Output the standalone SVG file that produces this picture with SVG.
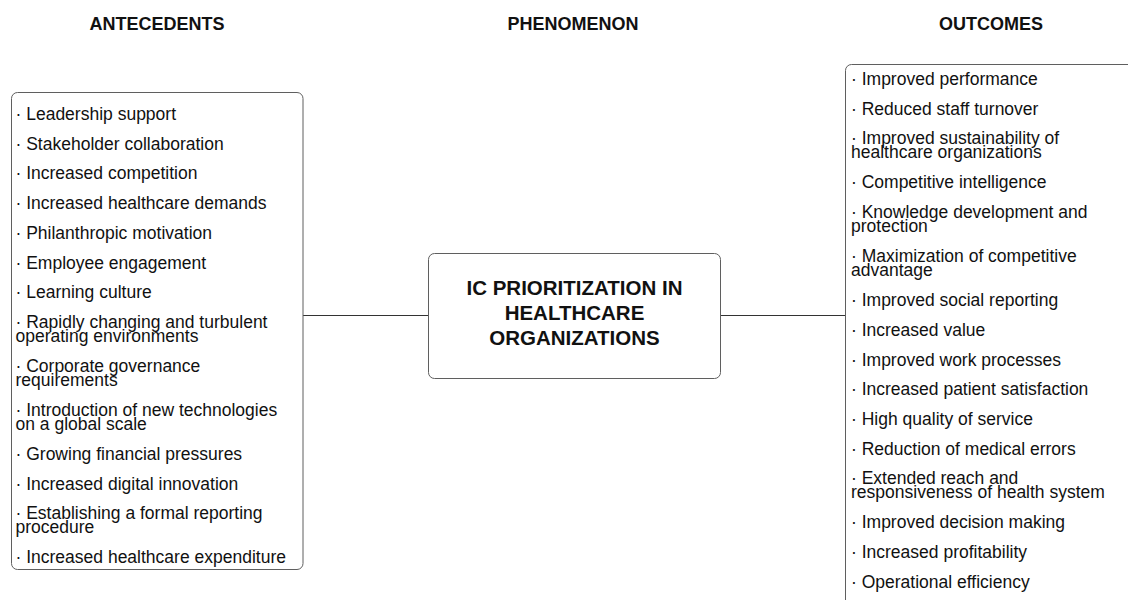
<svg xmlns="http://www.w3.org/2000/svg" width="1128" height="600" viewBox="0 0 1128 600">
  <style>
    .bg { fill: #ffffff; }
    .box { fill: #ffffff; stroke: #5f5f5f; stroke-width: 1; }
    .head { font-family: "Liberation Sans", Arial, sans-serif; font-size: 18px; font-weight: bold; fill: #111111; text-anchor: middle; }
    .item { font-family: "Liberation Sans", Arial, sans-serif; font-size: 17.5px; fill: #111111; }
    .title { font-family: "Liberation Sans", Arial, sans-serif; font-size: 20.5px; font-weight: bold; fill: #111111; text-anchor: middle; }
    .link { stroke: #333333; stroke-width: 1; fill: none; }
  </style>
  <rect class="bg" x="0" y="0" width="1128" height="600"/>

  <!-- column headings -->
  <g id="headings">
    <text class="head" x="157" y="29.5">ANTECEDENTS</text>
    <text class="head" x="573" y="29.5">PHENOMENON</text>
    <text class="head" x="991" y="29.5">OUTCOMES</text>
  </g>

  <!-- connectors between the lists and the central node -->
  <g id="connectors">
    <line class="link" x1="303" y1="315.5" x2="428.5" y2="315.5"/>
    <line class="link" x1="720.5" y1="315.5" x2="845.5" y2="315.5"/>
  </g>

  <!-- antecedents list -->
  <g id="antecedents">
    <rect class="box" x="11.5" y="92.5" width="291.5" height="477" rx="6"/>
    <text class="item" x="15.5" y="120">· Leadership support</text>
    <text class="item" x="15.5" y="149.7">· Stakeholder collaboration</text>
    <text class="item" x="15.5" y="179.4">· Increased competition</text>
    <text class="item" x="15.5" y="209.1">· Increased healthcare demands</text>
    <text class="item" x="15.5" y="238.8">· Philanthropic motivation</text>
    <text class="item" x="15.5" y="268.5">· Employee engagement</text>
    <text class="item" x="15.5" y="298.2">· Learning culture</text>
    <text class="item" x="15.5" y="327.9">· Rapidly changing and turbulent<tspan x="15.5" y="341.5">operating environments</tspan></text>
    <text class="item" x="15.5" y="371.9">· Corporate governance<tspan x="15.5" y="385.5">requirements</tspan></text>
    <text class="item" x="15.5" y="415.9">· Introduction of new technologies<tspan x="15.5" y="429.5">on a global scale</tspan></text>
    <text class="item" x="15.5" y="459.9">· Growing financial pressures</text>
    <text class="item" x="15.5" y="489.6">· Increased digital innovation</text>
    <text class="item" x="15.5" y="519.3">· Establishing a formal reporting<tspan x="15.5" y="532.9">procedure</tspan></text>
    <text class="item" x="15.5" y="563.3">· Increased healthcare expenditure</text>
  </g>

  <!-- central phenomenon -->
  <g id="phenomenon">
    <rect class="box" x="428.5" y="253.5" width="292" height="125" rx="6"/>
    <text class="title" x="574.5" y="295">IC PRIORITIZATION IN</text>
    <text class="title" x="574.5" y="320">HEALTHCARE</text>
    <text class="title" x="574.5" y="345">ORGANIZATIONS</text>
  </g>

  <!-- outcomes list (runs past the right and bottom edges) -->
  <g id="outcomes">
    <rect class="box" x="845.5" y="64.5" width="300" height="600" rx="6"/>
    <text class="item" x="851" y="85">· Improved performance</text>
    <text class="item" x="851" y="114.7">· Reduced staff turnover</text>
    <text class="item" x="851" y="144.4">· Improved sustainability of<tspan x="851" y="158">healthcare organizations</tspan></text>
    <text class="item" x="851" y="188.4">· Competitive intelligence</text>
    <text class="item" x="851" y="218.1">· Knowledge development and<tspan x="851" y="231.7">protection</tspan></text>
    <text class="item" x="851" y="262.1">· Maximization of competitive<tspan x="851" y="275.7">advantage</tspan></text>
    <text class="item" x="851" y="306.1">· Improved social reporting</text>
    <text class="item" x="851" y="335.8">· Increased value</text>
    <text class="item" x="851" y="365.5">· Improved work processes</text>
    <text class="item" x="851" y="395.2">· Increased patient satisfaction</text>
    <text class="item" x="851" y="424.9">· High quality of service</text>
    <text class="item" x="851" y="454.6">· Reduction of medical errors</text>
    <text class="item" x="851" y="484.3">· Extended reach and<tspan x="851" y="497.9">responsiveness of health system</tspan></text>
    <text class="item" x="851" y="528.3">· Improved decision making</text>
    <text class="item" x="851" y="558">· Increased profitability</text>
    <text class="item" x="851" y="587.7">· Operational efficiency</text>
  </g>
</svg>
